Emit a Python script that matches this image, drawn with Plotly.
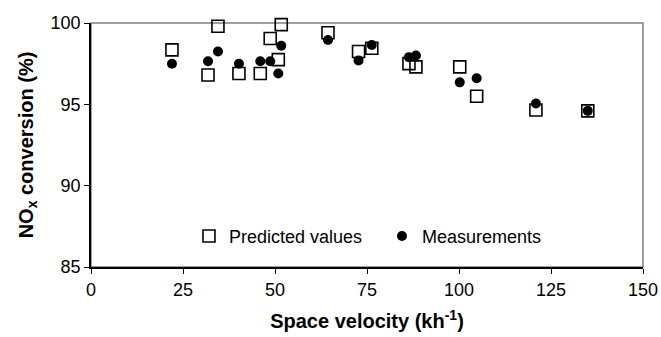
import plotly.graph_objects as go

space_velocity = [22.0, 31.8, 34.5, 40.2, 46.0, 48.7, 50.9, 51.7, 64.4, 72.7,
                  76.3, 86.4, 88.3, 100.2, 104.8, 120.9, 135.0]
predicted = [98.35, 96.8, 99.8, 96.9, 96.9, 99.05, 97.75, 99.9, 99.4, 98.25,
             98.45, 97.5, 97.3, 97.3, 95.5, 94.65, 94.6]
measured = [97.5, 97.65, 98.25, 97.5, 97.65, 97.65, 96.9, 98.6, 98.95, 97.7,
            98.65, 97.9, 98.0, 96.35, 96.6, 95.05, 94.6]
x_ticks = [0, 25, 50, 75, 100, 125, 150]
y_ticks = [85, 90, 95, 100]

FONT = "Liberation Sans, Arial, sans-serif"

fig = go.Figure()
fig.add_trace(go.Scatter(
    x=space_velocity, y=predicted, mode="markers", name="Predicted values",
    marker=dict(symbol="square-open", size=12, color="black",
                line=dict(color="black", width=1.6)),
    cliponaxis=False,
))
fig.add_trace(go.Scatter(
    x=space_velocity, y=measured, mode="markers", name="Measurements",
    marker=dict(symbol="circle", size=10, color="black"),
    cliponaxis=False,
))

# grey plot-area frame
fig.add_shape(type="rect", xref="paper", yref="paper", x0=0, y0=0, x1=1, y1=1,
              line=dict(color="#808080", width=1.5), layer="below")

fig.update_layout(
    width=661, height=337,
    margin=dict(l=91, r=18, t=23, b=70, autoexpand=False),
    paper_bgcolor="white", plot_bgcolor="white",
    font=dict(family=FONT, size=18, color="black"),
    showlegend=True,
    legend=dict(orientation="h", x=0.1775, y=0.126, xanchor="left", yanchor="middle",
                bgcolor="rgba(0,0,0,0)", font=dict(size=18, family=FONT),
                entrywidth=148, entrywidthmode="pixels"),
    xaxis=dict(
        range=[0, 150], tickvals=x_ticks, ticks="outside", ticklen=5,
        tickcolor="black", showline=True, linecolor="black", linewidth=1.5,
        showgrid=False, zeroline=False, ticklabelstandoff=1, automargin=False,
        tickfont=dict(size=18, family=FONT),
        title=dict(text="<b>Space velocity (kh<sup>-1</sup>)</b>",
                   font=dict(size=20, family=FONT), standoff=15),
    ),
    yaxis=dict(
        range=[85, 100], tickvals=y_ticks, ticks="outside", ticklen=5,
        tickcolor="black", showline=True, linecolor="black", linewidth=1.5,
        showgrid=False, zeroline=False, automargin=False,
        tickfont=dict(size=18, family=FONT),
        title=dict(text="<b>NO<sub>x</sub> conversion (%)</b>",
                   font=dict(size=20, family=FONT), standoff=12),
    ),
)

fig.write_html("out.html", config={"displayModeBar": False},
               post_script="document.body.style.margin='0';document.body.style.overflow='hidden';")
